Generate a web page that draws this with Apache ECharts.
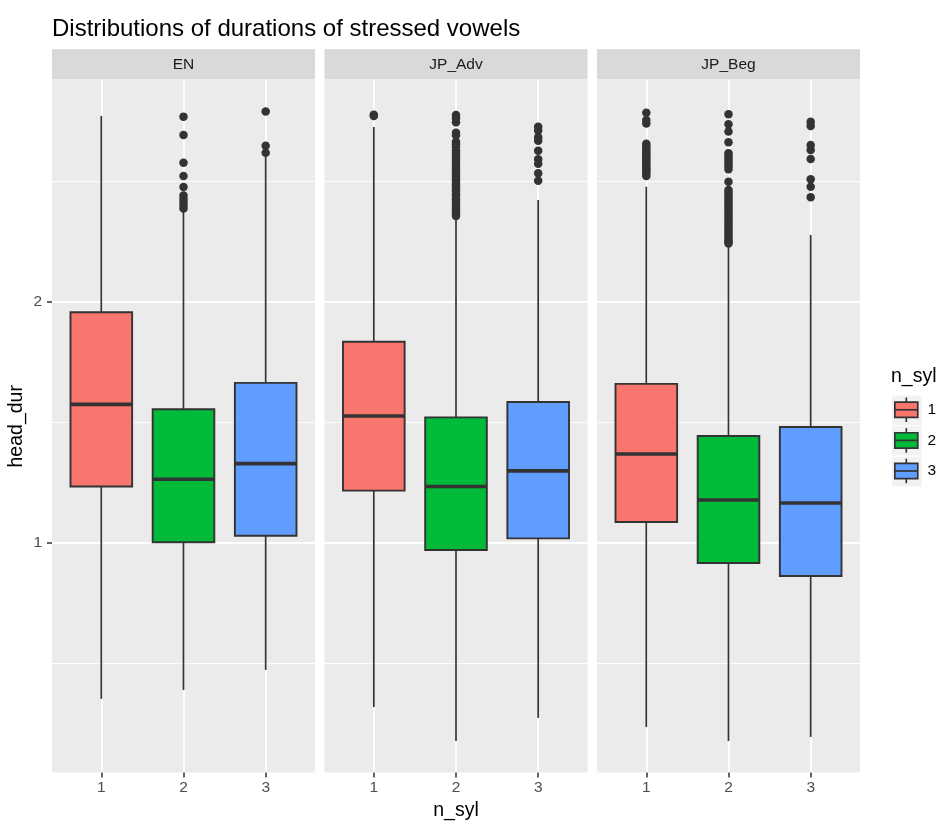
<!DOCTYPE html>
<html><head><meta charset="utf-8">
<script src="https://cdn.jsdelivr.net/npm/echarts@6/dist/echarts.min.js"></script>
<style>html,body{margin:0;padding:0;background:#fff}#c{width:939px;height:821px}</style>
</head><body><div id="c"></div>
<script>
// ---------- data ----------
const facets = ['EN', 'JP_Adv', 'JP_Beg'];
const nSylLevels = ['1', '2', '3'];
const yMajorTicks = [1, 2];
const yMinorTicks = [0.5, 1.5, 2.5];
const xTicks = [1, 2, 3];
// [lower whisker, Q1, median, Q3, upper whisker] for n_syl = 1, 2, 3
const boxEN    = [[0.351, 1.232, 1.573, 1.955, 2.770], [0.388, 1.001, 1.262, 1.553, 2.375], [0.471, 1.028, 1.327, 1.662, 2.600]];
const boxJPAdv = [[0.317, 1.215, 1.525, 1.833, 2.724], [0.176, 0.969, 1.232, 1.519, 2.338], [0.272, 1.017, 1.297, 1.583, 2.421]];
const boxJPBeg = [[0.234, 1.085, 1.367, 1.658, 2.476], [0.176, 0.915, 1.176, 1.442, 2.227], [0.193, 0.861, 1.164, 1.479, 2.276]];
// outliers for n_syl = 1, 2, 3
const outEN = [
  [],
  [2.767, 2.691, 2.576, 2.521, 2.475, 2.440, 2.425, 2.412, 2.398, 2.386],
  [2.788, 2.646, 2.617]
];
const outJPAdv = [
  [2.775, 2.770],
  [2.774, 2.760, 2.744, 2.700, 2.690, 2.663, 2.652, 2.642, 2.628, 2.615, 2.604, 2.594, 2.580, 2.570, 2.559, 2.549, 2.539, 2.528, 2.518, 2.507, 2.497, 2.486, 2.476, 2.466, 2.456, 2.445, 2.435, 2.424, 2.414, 2.403, 2.393, 2.383, 2.373, 2.364, 2.355],
  [2.725, 2.709, 2.681, 2.667, 2.625, 2.590, 2.571, 2.532, 2.501]
];
const outJPBeg = [
  [2.783, 2.753, 2.739, 2.654, 2.645, 2.636, 2.626, 2.617, 2.609, 2.601, 2.592, 2.584, 2.575, 2.566, 2.557, 2.549, 2.540, 2.532, 2.521],
  [2.777, 2.735, 2.705, 2.661, 2.615, 2.605, 2.594, 2.583, 2.573, 2.561, 2.549, 2.497, 2.463, 2.452, 2.442, 2.431, 2.421, 2.410, 2.400, 2.390, 2.380, 2.369, 2.359, 2.348, 2.338, 2.327, 2.317, 2.307, 2.297, 2.286, 2.276, 2.265, 2.255, 2.248, 2.241],
  [2.746, 2.728, 2.649, 2.629, 2.591, 2.507, 2.476, 2.432]
];
const boxesByFacet = [boxEN, boxJPAdv, boxJPBeg];
const outliersByFacet = [outEN, outJPAdv, outJPBeg];

// ---------- styles / layout ----------
const fillColors = ['#F8766D', '#00BA38', '#619CFF'];
const FONT = '"Liberation Sans", Arial, Helvetica, sans-serif';
const panelLefts = [52, 324.5, 597];
const panelWidth = 263;
const panelTop = 80;
const panelHeight = 692.6;
const yMin = 0.045, yMax = 2.919;

const grids = [], xAxes = [], yAxes = [], series = [], graphics = [];

facets.forEach((f, i) => {
  grids.push({
    left: panelLefts[i], top: panelTop, width: panelWidth, height: panelHeight,
    show: true, backgroundColor: '#EBEBEB', borderWidth: 0, outerBoundsMode: 'none'
  });
  xAxes.push({
    gridIndex: i, type: 'value', min: 0.4, max: 3.6,
    axisLine: { show: false },
    axisTick: { show: true, length: 5, inside: false, lineStyle: { color: '#333333', width: 1.5 }, customValues: xTicks },
    axisLabel: { show: true, margin: 7, color: '#4D4D4D', fontSize: 15.5, fontFamily: FONT,
                 customValues: xTicks, formatter: v => nSylLevels[Math.round(v) - 1] || '' },
    splitLine: { show: true, lineStyle: { color: '#FFFFFF', width: 1.8 } },
    name: i === 1 ? 'n_syl' : '', nameLocation: 'middle', nameGap: 28,
    nameTextStyle: { color: '#000000', fontSize: 19.5, fontFamily: FONT }
  });
  // major y axis
  yAxes.push({
    gridIndex: i, type: 'value', min: yMin, max: yMax, position: 'left',
    axisLine: { show: false },
    axisTick: { show: i === 0, length: 5, inside: false, lineStyle: { color: '#333333', width: 1.5 }, customValues: yMajorTicks },
    axisLabel: { show: i === 0, margin: 10, color: '#4D4D4D', fontSize: 15.5, fontFamily: FONT, customValues: yMajorTicks },
    splitLine: { show: true, lineStyle: { color: '#FFFFFF', width: 1.8 } },
    name: i === 0 ? 'head_dur' : '', nameLocation: 'middle', nameRotate: 90, nameGap: 25,
    nameTextStyle: { color: '#000000', fontSize: 19.5, fontFamily: FONT }
  });
  // minor y axis (for minor grid lines)
  yAxes.push({
    gridIndex: i, type: 'value', min: yMin, max: yMax, position: 'right',
    axisLine: { show: false },
    axisTick: { show: false, customValues: yMinorTicks },
    axisLabel: { show: false, customValues: yMinorTicks },
    splitLine: { show: true, lineStyle: { color: '#FFFFFF', width: 0.9 } }
  });

  // strip
  graphics.push({
    type: 'rect', left: panelLefts[i], top: 49.3, silent: true,
    shape: { width: panelWidth, height: 30.2 }, style: { fill: '#D9D9D9' }
  });
  graphics.push({
    type: 'text', x: panelLefts[i] + panelWidth / 2, y: 64.5, silent: true,
    style: { text: f, fill: '#1A1A1A', font: '15.5px ' + FONT, textAlign: 'center', textVerticalAlign: 'middle' }
  });

  const boxData = boxesByFacet[i].map((b, k) => [k + 1].concat(b));
  series.push({
    type: 'custom', xAxisIndex: i, yAxisIndex: 2 * i,
    encode: { x: 0, y: [1, 2, 3, 4, 5] },
    data: boxData,
    renderItem: function (params, api) {
      const x = api.value(0);
      const lo = api.coord([x, api.value(1)]);
      const q1 = api.coord([x, api.value(2)]);
      const md = api.coord([x, api.value(3)]);
      const q3 = api.coord([x, api.value(4)]);
      const hi = api.coord([x, api.value(5)]);
      const w = api.size([0.75, 0])[0];
      const cx = lo[0];
      const col = fillColors[params.dataIndex];
      return {
        type: 'group',
        children: [
          { type: 'line', shape: { x1: cx, y1: lo[1], x2: cx, y2: q1[1] }, style: { stroke: '#333333', lineWidth: 1.7 } },
          { type: 'line', shape: { x1: cx, y1: q3[1], x2: cx, y2: hi[1] }, style: { stroke: '#333333', lineWidth: 1.7 } },
          { type: 'rect', shape: { x: cx - w / 2, y: q3[1], width: w, height: q1[1] - q3[1] },
            style: { fill: col, stroke: '#333333', lineWidth: 1.9 } },
          { type: 'line', shape: { x1: cx - w / 2, y1: md[1], x2: cx + w / 2, y2: md[1] },
            style: { stroke: '#333333', lineWidth: 3.6 } }
        ]
      };
    }
  });

  const outData = [];
  outliersByFacet[i].forEach((arr, k) => arr.forEach(v => outData.push([k + 1, v])));
  series.push({
    type: 'scatter', xAxisIndex: i, yAxisIndex: 2 * i,
    data: outData, symbol: 'circle', symbolSize: 8.5,
    itemStyle: { color: '#333333', opacity: 1 }, z: 3
  });
});

// legend (ggplot-style boxplot keys)
const legendX = 891, keySize = 30.6, legendKeysTop = 394.5;
graphics.push({
  type: 'text', x: legendX, y: 376.5, silent: true,
  style: { text: 'n_syl', fill: '#000000', font: '19.5px ' + FONT, textAlign: 'left', textVerticalAlign: 'middle' }
});
nSylLevels.forEach((lab, k) => {
  const top = legendKeysTop + k * keySize;
  const cx = legendX + keySize / 2;
  graphics.push({ type: 'rect', left: legendX, top: top, silent: true,
    shape: { width: keySize, height: keySize }, style: { fill: '#F2F2F2', stroke: '#FFFFFF', lineWidth: 1 } });
  graphics.push({ type: 'line', silent: true,
    shape: { x1: cx, y1: top + keySize * 0.1, x2: cx, y2: top + keySize * 0.9 }, style: { stroke: '#333333', lineWidth: 1.7 } });
  graphics.push({ type: 'rect', silent: true,
    shape: { x: legendX + keySize * 0.125, y: top + keySize * 0.25, width: keySize * 0.75, height: keySize * 0.5 },
    style: { fill: fillColors[k], stroke: '#333333', lineWidth: 1.7 } });
  graphics.push({ type: 'line', silent: true,
    shape: { x1: legendX + keySize * 0.125, y1: top + keySize * 0.5, x2: legendX + keySize * 0.875, y2: top + keySize * 0.5 },
    style: { stroke: '#333333', lineWidth: 1.7 } });
  graphics.push({ type: 'text', x: legendX + keySize + 6, y: top + keySize / 2, silent: true,
    style: { text: lab, fill: '#000000', font: '15.5px ' + FONT, textAlign: 'left', textVerticalAlign: 'middle' } });
});

const chart = echarts.init(document.getElementById('c'), null, { renderer: 'canvas' });
chart.setOption({
  animation: false,
  backgroundColor: '#FFFFFF',
  title: {
    text: 'Distributions of durations of stressed vowels', left: 47, top: 12,
    textStyle: { fontSize: 24, fontWeight: 'normal', color: '#000000', fontFamily: FONT }
  },
  grid: grids, xAxis: xAxes, yAxis: yAxes, series: series, graphic: graphics
});
</script></body></html>
